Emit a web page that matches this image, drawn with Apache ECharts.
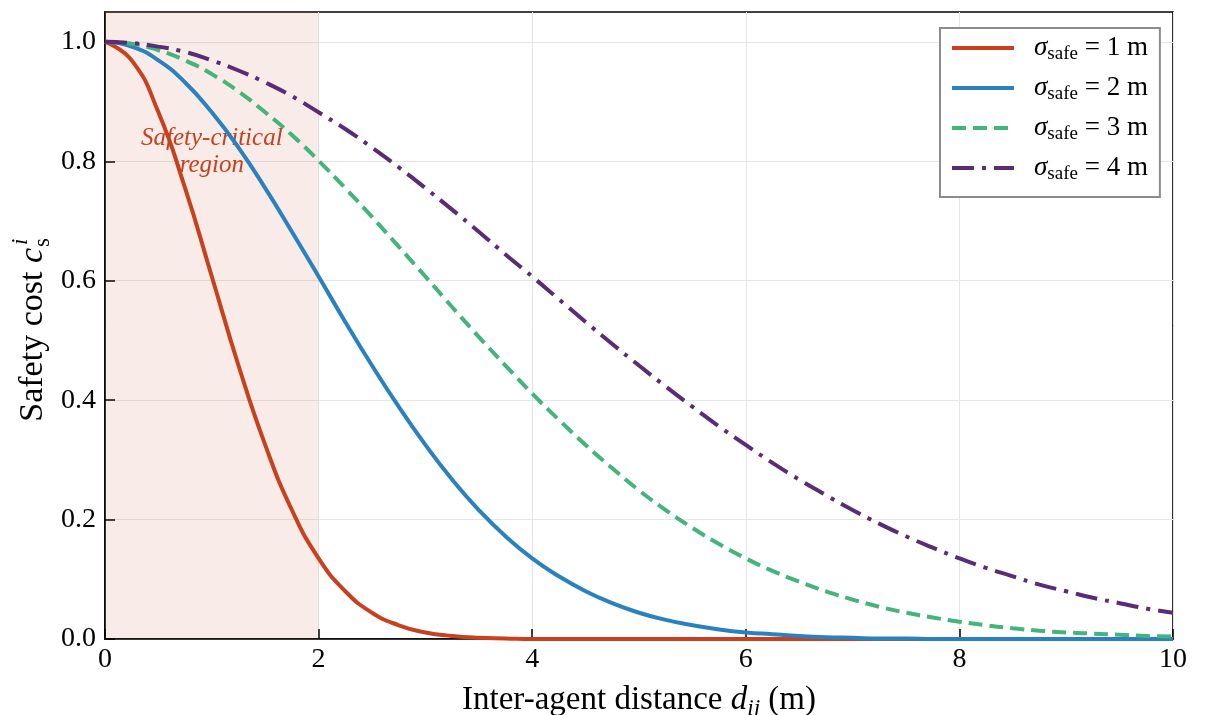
<!DOCTYPE html>
<html>
<head>
<meta charset="utf-8">
<script src="https://cdn.jsdelivr.net/npm/echarts@6/dist/echarts.min.js"></script>
<style>
  html, body { margin: 0; padding: 0; background: #fff; }
  #chart { width: 1205px; height: 715px; }
</style>
</head>
<body>
<div id="chart"></div>
<script>
// Inter-agent distance samples (m)
const distances = [
  0, 0.25, 0.5, 0.75, 1, 1.25, 1.5, 1.75, 2, 2.25, 2.5, 2.75, 3, 3.25, 3.5, 3.75,
  4, 4.25, 4.5, 4.75, 5, 5.25, 5.5, 5.75, 6, 6.25, 6.5, 6.75, 7, 7.25, 7.5, 7.75,
  8, 8.25, 8.5, 8.75, 9, 9.25, 9.5, 9.75, 10
];

// Safety cost for each sigma_safe setting
const costSigma1 = [
  1.000, 0.969, 0.882, 0.755, 0.607, 0.458, 0.325, 0.216, 0.135, 0.080, 0.044, 0.023, 0.011, 0.005, 0.002, 0.001,
  0.000, 0.000, 0.000, 0.000, 0.000, 0.000, 0.000, 0.000, 0.000, 0.000, 0.000, 0.000, 0.000, 0.000, 0.000, 0.000,
  0.000, 0.000, 0.000, 0.000, 0.000, 0.000, 0.000, 0.000, 0.000
];
const costSigma2 = [
  1.000, 0.992, 0.969, 0.932, 0.882, 0.823, 0.755, 0.682, 0.607, 0.531, 0.458, 0.389, 0.325, 0.267, 0.216, 0.172,
  0.135, 0.105, 0.080, 0.060, 0.044, 0.032, 0.023, 0.016, 0.011, 0.008, 0.005, 0.003, 0.002, 0.001, 0.001, 0.000,
  0.000, 0.000, 0.000, 0.000, 0.000, 0.000, 0.000, 0.000, 0.000
];
const costSigma3 = [
  1.000, 0.997, 0.986, 0.969, 0.946, 0.917, 0.882, 0.844, 0.801, 0.755, 0.707, 0.657, 0.607, 0.556, 0.506, 0.458,
  0.411, 0.367, 0.325, 0.286, 0.249, 0.216, 0.186, 0.159, 0.135, 0.114, 0.096, 0.080, 0.066, 0.054, 0.044, 0.036,
  0.029, 0.023, 0.018, 0.014, 0.011, 0.009, 0.007, 0.005, 0.004
];
const costSigma4 = [
  1.000, 0.998, 0.992, 0.983, 0.969, 0.952, 0.932, 0.909, 0.882, 0.854, 0.823, 0.790, 0.755, 0.719, 0.682, 0.644,
  0.607, 0.569, 0.531, 0.494, 0.458, 0.423, 0.389, 0.356, 0.325, 0.295, 0.267, 0.241, 0.216, 0.193, 0.172, 0.153,
  0.135, 0.119, 0.105, 0.091, 0.080, 0.069, 0.060, 0.051, 0.044
];

const sigmaLabels = ['1', '2', '3', '4'];
const yTicks = [0, 0.2, 0.4, 0.6, 0.8, 1.0];
const xTicks = [0, 2, 4, 6, 8, 10];
const criticalRegion = [0, 2];

const SERIF = '"Liberation Serif", "DejaVu Serif", serif';

const pair = ys => distances.map((d, i) => [d, ys[i]]);

const lineDefs = [
  { values: costSigma1, color: '#C8401E', type: 'solid' },
  { values: costSigma2, color: '#2A81BF', type: 'solid' },
  { values: costSigma3, color: '#42B47C', type: [14, 7] },
  { values: costSigma4, color: '#5A2C76', type: [22, 8, 4, 8] }
];

const names = sigmaLabels.map(s => 'sigma' + s);

const series = lineDefs.map((def, k) => ({
  name: names[k],
  type: 'line',
  data: pair(def.values),
  showSymbol: false,
  symbol: 'none',
  smooth: 0.5,
  lineStyle: { color: def.color, width: 4, type: def.type, cap: 'butt' },
  itemStyle: { color: def.color },
  z: 3 + k
}));

// Shaded safety-critical band with its caption
series[0].markArea = {
  silent: true,
  itemStyle: { color: 'rgba(200,64,30,0.10)' },
  label: {
    show: true,
    position: ['50%', 140],
    align: 'center',
    verticalAlign: 'middle',
    formatter: 'Safety-critical\nregion',
    fontFamily: SERIF,
    fontStyle: 'italic',
    fontSize: 25,
    lineHeight: 27,
    color: '#C8401E'
  },
  data: [[{ xAxis: criticalRegion[0] }, { xAxis: criticalRegion[1] }]]
};

const chart = echarts.init(document.getElementById('chart'), null, { renderer: 'canvas' });

chart.setOption({
  backgroundColor: '#ffffff',
  animation: false,
  textStyle: { fontFamily: SERIF },
  grid: {
    left: 105, right: 32, top: 12, bottom: 76,
    outerBoundsMode: 'none',
    containLabel: false,
    show: true, borderColor: '#000', borderWidth: 1.6, backgroundColor: 'transparent'
  },
  xAxis: {
    type: 'value',
    min: 0, max: 10, interval: 2,
    axisLine: { show: true, onZero: false, lineStyle: { color: '#000', width: 1.6 } },
    axisTick: { show: true, inside: true, length: 10, lineStyle: { color: '#000', width: 1.5 }, customValues: xTicks },
    axisLabel: { fontFamily: SERIF, fontSize: 28, color: '#000', margin: 7, customValues: xTicks },
    splitLine: { show: true, lineStyle: { color: '#e6e6e6', width: 1 } },
    name: '{n|Inter-agent distance }{d|d}{sub|ij}{n| (m)}',
    nameLocation: 'middle',
    nameGap: 42,
    nameTextStyle: {
      rich: {
        n: { fontFamily: SERIF, fontSize: 33, color: '#000' },
        d: { fontFamily: SERIF, fontSize: 33, fontStyle: 'italic', color: '#000' },
        sub: { fontFamily: SERIF, fontSize: 23, fontStyle: 'italic', color: '#000', padding: [16, 0, 0, 0] }
      }
    }
  },
  yAxis: {
    type: 'value',
    min: 0, max: 1.05, interval: 0.2,
    axisLine: { show: true, onZero: false, lineStyle: { color: '#000', width: 1.6 } },
    axisTick: { show: true, inside: true, length: 10, lineStyle: { color: '#000', width: 1.5 }, customValues: yTicks },
    axisLabel: {
      fontFamily: SERIF, fontSize: 28, color: '#000', margin: 9,
      customValues: yTicks,
      formatter: v => v.toFixed(1)
    },
    splitLine: { show: true, lineStyle: { color: '#e6e6e6', width: 1 } }
  },
  legend: {
    orient: 'vertical',
    left: 940, top: 28,
    padding: [2, 12, 11, 10],
    itemGap: 4,
    itemWidth: 62,
    itemHeight: 14,
    backgroundColor: '#fff',
    borderColor: '#8c8c8c',
    borderWidth: 2,
    borderRadius: 0,
    itemStyle: { opacity: 0 },
    lineStyle: { width: 4 },
    data: names,
    formatter: name => {
      const s = sigmaLabels[names.indexOf(name)];
      return '{s|σ}{sub|safe}{t| = ' + s + ' m}';
    },
    textStyle: {
      padding: [0, 0, 0, 15],
      lineHeight: 36,
      rich: {
        s: { fontFamily: SERIF, fontSize: 27, fontStyle: 'italic', color: '#000', lineHeight: 36 },
        sub: { fontFamily: SERIF, fontSize: 19, color: '#000', padding: [13, 0, 0, 0], lineHeight: 36 },
        t: { fontFamily: SERIF, fontSize: 27, color: '#000', lineHeight: 36 }
      }
    }
  },
  graphic: [
    {
      // Rotated y-axis title: "Safety cost c" with stacked superscript i and subscript s
      type: 'group',
      x: 33,
      y: 336,
      rotation: Math.PI / 2,
      children: [
        {
          type: 'text',
          x: 88, y: 0,
          style: {
            text: '{n|Safety cost }{c|c}',
            rich: {
              n: { fontFamily: SERIF, fontSize: 34, fill: '#000' },
              c: { fontFamily: SERIF, fontSize: 34, fontStyle: 'italic', fill: '#000' }
            },
            align: 'right',
            verticalAlign: 'middle'
          }
        },
        {
          type: 'text',
          x: 91, y: -12,
          style: {
            text: 'i',
            font: 'italic 23px ' + SERIF,
            fill: '#000',
            align: 'left',
            verticalAlign: 'middle'
          }
        },
        {
          type: 'text',
          x: 89, y: 10,
          style: {
            text: 's',
            font: '23px ' + SERIF,
            fill: '#000',
            align: 'left',
            verticalAlign: 'middle'
          }
        }
      ]
    }
  ],
  series: series
});
</script>
</body>
</html>
